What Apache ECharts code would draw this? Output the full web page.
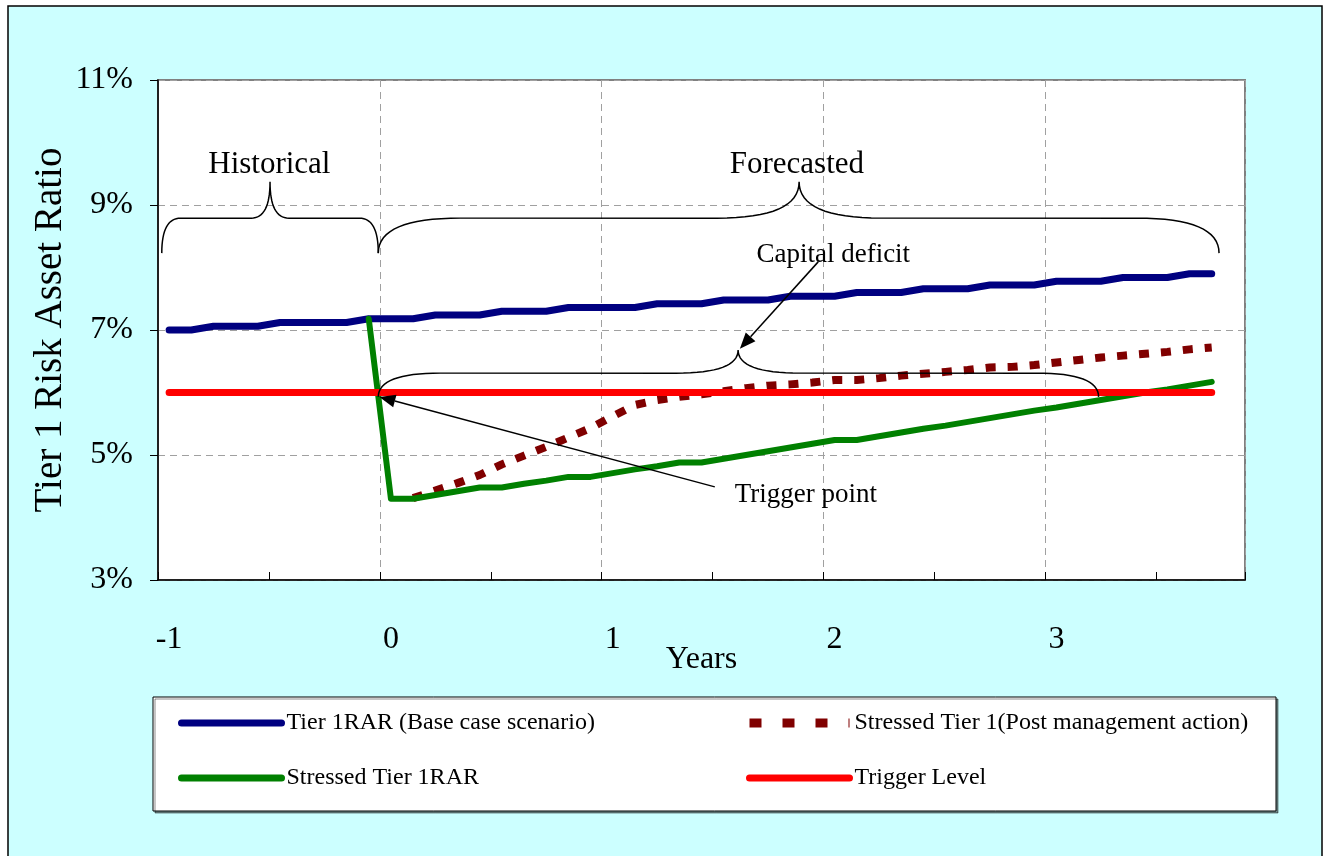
<!DOCTYPE html>
<html>
<head>
<meta charset="utf-8">
<script src="https://cdn.jsdelivr.net/npm/echarts@6/dist/echarts.min.js"></script>
<style>
html,body{margin:0;padding:0;background:#fff;}
#c{width:1324px;height:856px;}
</style>
</head>
<body>
<div id="c"></div>
<script>
// ---- data ----
const categories = ['-1','-0.9','-0.8','-0.7','-0.6','-0.5','-0.4','-0.3','-0.2','-0.1',
  '0','0.1','0.2','0.3','0.4','0.5','0.6','0.7','0.8','0.9',
  '1','1.1','1.2','1.3','1.4','1.5','1.6','1.7','1.8','1.9',
  '2','2.1','2.2','2.3','2.4','2.5','2.6','2.7','2.8','2.9',
  '3','3.1','3.2','3.3','3.4','3.5','3.6','3.7','3.8'];

const baseCase = [7.00,7.00,7.06,7.06,7.06,7.12,7.12,7.12,7.12,7.18,7.18,7.18,7.24,7.24,7.24,7.30,
  7.30,7.30,7.36,7.36,7.36,7.36,7.42,7.42,7.42,7.48,7.48,7.48,7.54,7.54,7.54,7.60,
  7.60,7.60,7.66,7.66,7.66,7.72,7.72,7.72,7.78,7.78,7.78,7.84,7.84,7.84,7.90,7.90];

const postManagement = [null,null,null,null,null,null,null,null,null,null,null,4.31,
  4.43,4.55,4.68,4.85,4.99,5.13,5.28,5.43,5.62,5.80,5.88,5.93,5.97,6.02,6.07,6.11,
  6.13,6.16,6.20,6.20,6.23,6.27,6.30,6.33,6.36,6.40,6.41,6.44,6.48,6.52,6.56,6.59,
  6.62,6.65,6.69,6.72];

const stressed = [null,null,null,null,null,null,null,null,null,7.18,4.30,4.30,
  4.36,4.42,4.48,4.48,4.54,4.59,4.65,4.65,4.71,4.77,4.82,4.88,4.88,4.94,5.00,5.06,
  5.12,5.18,5.24,5.24,5.30,5.36,5.42,5.47,5.53,5.59,5.65,5.71,5.76,5.82,5.88,5.94,
  6.00,6.05,6.11,6.17];

const triggerLevel = [6.0,6.0,6.0,6.0,6.0,6.0,6.0,6.0,6.0,6.0,6.0,6.0,6.0,6.0,6.0,6.0,
  6.0,6.0,6.0,6.0,6.0,6.0,6.0,6.0,6.0,6.0,6.0,6.0,6.0,6.0,6.0,6.0,
  6.0,6.0,6.0,6.0,6.0,6.0,6.0,6.0,6.0,6.0,6.0,6.0,6.0,6.0,6.0,6.0];

const seriesNames = ['Tier 1RAR (Base case scenario)', 'Stressed Tier 1(Post management action)',
  'Stressed Tier 1RAR', 'Trigger Level'];

const FONT = 'Liberation Serif';

const legendCommon = {
  orient: 'vertical', top: 711, padding: 0, itemGap: 31,
  itemWidth: 100, itemHeight: 14, z: 10,
  itemStyle: {opacity: 0, borderWidth: 0},
  textStyle: {fontFamily: FONT, fontSize: 24, color: '#000'}
};

const option = {
  backgroundColor: '#ffffff',
  animation: false,
  grid: {
    left: 158, right: 79, top: 80, bottom: 276,
    show: true, backgroundColor: '#ffffff', borderColor: '#808080', borderWidth: 2
  },
  legend: [
    Object.assign({}, legendCommon, {
      left: 178,
      data: [{name: seriesNames[0]}, {name: seriesNames[2]}],
      lineStyle: {width: 7, cap: 'round'}
    }),
    Object.assign({}, legendCommon, {
      left: 745,
      data: [{name: seriesNames[1], lineStyle: {width: 9, type: [12, 21], cap: 'butt'}},
             {name: seriesNames[3], lineStyle: {width: 7, cap: 'round'}}],
      lineStyle: {width: 7, cap: 'round'}
    })
  ],
  xAxis: {
    type: 'category', data: categories, boundaryGap: true,
    axisLine: {lineStyle: {color: '#000', width: 1.5}},
    axisTick: {show: true, inside: true, length: 8, interval: function (i) { return i % 5 === 0; },
      lineStyle: {color: '#000', width: 1}},
    axisLabel: {interval: function (i) { return i % 10 === 0; }, margin: 44,
      fontFamily: FONT, fontSize: 32, color: '#000'},
    splitLine: {show: true, interval: function (i) { return i % 10 === 0 && i > 0; },
      lineStyle: {type: [7, 5], color: '#a0a0a0', width: 1}},
    name: 'Years', nameLocation: 'middle', nameGap: 64, nameMoveOverlap: false,
    nameTextStyle: {fontFamily: FONT, fontSize: 32, color: '#000'}
  },
  yAxis: {
    type: 'value', min: 3, max: 11, interval: 2,
    axisLine: {show: true, lineStyle: {color: '#000', width: 1.5}},
    axisTick: {show: true, length: 8, lineStyle: {color: '#000'}},
    axisLabel: {formatter: '{value}%', margin: 25, fontFamily: FONT, fontSize: 32, color: '#000'},
    splitLine: {show: true, lineStyle: {type: [7, 5], color: '#a0a0a0', width: 1}},
    name: 'Tier 1 Risk Asset Ratio', nameLocation: 'middle', nameGap: 88, nameRotate: 90,
    nameMoveOverlap: false,
    nameTextStyle: {fontFamily: FONT, fontSize: 39, color: '#000'}
  },
  series: [
    {name: seriesNames[0], type: 'line', data: baseCase, symbol: 'none',
      lineStyle: {color: '#000080', width: 7, cap: 'round', join: 'round'}, itemStyle: {color: '#000080'}},
    {name: seriesNames[1], type: 'line', data: postManagement, symbol: 'none',
      lineStyle: {color: '#800000', width: 8, type: [10, 12], cap: 'butt'}, itemStyle: {color: '#800000'}},
    {name: seriesNames[2], type: 'line', data: stressed, symbol: 'none',
      lineStyle: {color: '#008000', width: 6, cap: 'round', join: 'round'}, itemStyle: {color: '#008000'}},
    {name: seriesNames[3], type: 'line', data: triggerLevel, symbol: 'none',
      lineStyle: {color: '#ff0000', width: 7, cap: 'round'}, itemStyle: {color: '#ff0000'}}
  ]
};

const chart = echarts.init(document.getElementById('c'), null, {renderer: 'canvas'});
chart.setOption(option);

// ---- annotations anchored to data coordinates ----
const px0 = chart.convertToPixel({xAxisIndex: 0}, 0);
const px1 = chart.convertToPixel({xAxisIndex: 0}, 1);
const band = px1 - px0;
const X = i => px0 + band * i;
const Y = v => chart.convertToPixel({yAxisIndex: 0}, v);

function quad(pts, p0, c, p1) {
  const n = 16;
  for (let k = 1; k <= n; k++) {
    const t = k / n, u = 1 - t;
    pts.push([u * u * p0[0] + 2 * u * t * c[0] + t * t * p1[0],
              u * u * p0[1] + 2 * u * t * c[1] + t * t * p1[1]]);
  }
}

function brace(a, b, t, yb, ym, yt, r) {
  const xa = X(a), xb = X(b), xt = X(t), rr = band * r;
  const Yb = Y(yb), Ym = Y(ym), Yt = Y(yt);
  const pts = [[xa, Yb]];
  quad(pts, [xa, Yb], [xa, Ym], [xa + rr, Ym]);
  pts.push([xt - rr, Ym]);
  quad(pts, [xt - rr, Ym], [xt, Ym], [xt, Yt]);
  quad(pts, [xt, Yt], [xt, Ym], [xt + rr, Ym]);
  pts.push([xb - rr, Ym]);
  quad(pts, [xb - rr, Ym], [xb, Ym], [xb, Yb]);
  return {type: 'polyline', z: 20, silent: true, shape: {points: pts},
    style: {fill: null, stroke: '#000', lineWidth: 1.5}};
}

function arrow(fromI, fromV, toI, toV) {
  const xf = X(fromI), yf = Y(fromV), xt = X(toI), yt = Y(toV);
  const dx = xt - xf, dy = yt - yf, L = Math.hypot(dx, dy), ux = dx / L, uy = dy / L;
  const len = 16, w = 13;
  const bx = xt - ux * len, by = yt - uy * len;
  return [
    {type: 'line', z: 20, silent: true, shape: {x1: xf, y1: yf, x2: bx, y2: by},
      style: {stroke: '#000', lineWidth: 1.5}},
    {type: 'polygon', z: 20, silent: true,
      shape: {points: [[xt, yt], [bx - uy * w / 2, by + ux * w / 2], [bx + uy * w / 2, by - ux * w / 2]]},
      style: {fill: '#000'}}
  ];
}

function label(i, v, text, size, align) {
  return {type: 'text', z: 20, silent: true, x: X(i), y: Y(v),
    style: {text: text, fontFamily: FONT, fontSize: size, fill: '#000',
      align: align || 'center', verticalAlign: 'middle'}};
}

const graphics = [
  {type: 'rect', z: -10, silent: true, shape: {x: 8, y: 6, width: 1314, height: 860},
    style: {fill: '#CCFFFF', stroke: '#000', lineWidth: 1.5}},
  {type: 'rect', z: 1, silent: true, shape: {x: 153, y: 697, width: 1123, height: 114},
    style: {fill: '#fff', stroke: '#000', lineWidth: 1,
      shadowColor: 'rgba(0,0,0,0.45)', shadowOffsetX: 2, shadowOffsetY: 2, shadowBlur: 0}},
  brace(-0.33, 9.43, 4.55, 8.23, 8.79, 9.37, 0.85),
  brace(9.43, 47.33, 28.4, 8.23, 8.79, 9.37, 3.7),
  brace(9.43, 41.9, 25.65, 5.93, 6.31, 6.68, 2.8),
  label(4.52, 9.65, 'Historical', 31),
  label(28.3, 9.65, 'Forecasted', 31),
  label(29.94, 8.2, 'Capital deficit', 27),
  label(25.5, 4.36, 'Trigger point', 27, 'left')
].concat(arrow(29.26, 8.09, 25.73, 6.70)).concat(arrow(24.6, 4.49, 9.48, 5.93));

chart.setOption({graphic: {elements: graphics}});
</script>
</body>
</html>
